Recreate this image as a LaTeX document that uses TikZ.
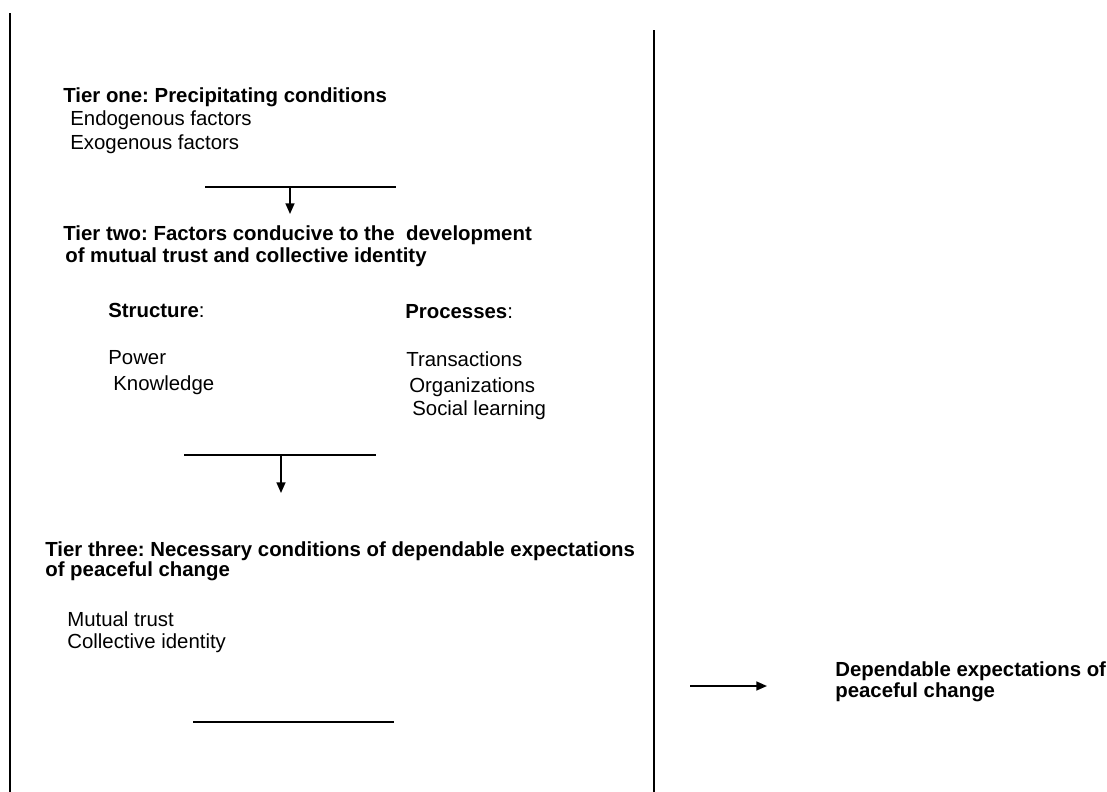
\documentclass[tikz,border=0pt]{standalone}
\usepackage{fontspec}
\setmainfont{Liberation Sans}
\usetikzlibrary{arrows.meta}
\frenchspacing

\begin{document}
\begin{tikzpicture}[x=0.02cm, y=-0.02cm,
    txt/.style ={anchor=base west, inner sep=0pt, font=\fontsize{11.6}{13}\selectfont},
    head/.style ={txt, font=\fontsize{11.6}{13}\selectfont\bfseries},
    rule/.style ={line width=1pt},
    frame/.style ={line width=1.3pt},
    flow/.style ={line width=1pt, -{Triangle[length=6pt, width=5pt]}}]
   \useasboundingbox (0,0) rectangle (1107,792);
   \coordinate (ltop) at (10,13);
   \coordinate (lbot) at (10,792);
   \coordinate (mtop) at (654,30);
   \coordinate (mbot) at (654,792);
   \draw[frame] (ltop) -- (lbot);
   \draw[frame] (mtop) -- (mbot);
   \node[head] (t1) at (63,102) {Tier one: Precipitating conditions};
   \node[txt] (endo) at (70,125) {Endogenous factors};
   \node[txt] (exo) at (70,149) {Exogenous factors};
   \coordinate (b1l) at (205,187);
   \coordinate (b1r) at (396,187);
   \coordinate (b1m) at (290,187);
   \coordinate (a1) at (290,214);
   \draw[rule] (b1l) -- (b1r);
   \draw[flow] (b1m) -- (a1);
   \node[head] (t2) at (63,240) {Tier two: Factors conducive to the\ \ development};
   \node[head] (t2b) at (65,262) {of mutual trust and collective identity};
   \node[head] (struct) at (108,317) {Structure\textmd{:}};
   \node[head] (proc) at (405,318) {Processes\textmd{:}};
   \node[txt] (power) at (108,364) {Power};
   \node[txt] (know) at (113,390) {Knowledge};
   \node[txt] (trans) at (406,366) {Transactions};
   \node[txt] (org) at (409,392) {Organizations};
   \node[txt] (social) at (412,415) {Social learning};
   \coordinate (b2l) at (184,455);
   \coordinate (b2r) at (376,455);
   \coordinate (b2m) at (281,455);
   \coordinate (a2) at (281,493);
   \draw[rule] (b2l) -- (b2r);
   \draw[flow] (b2m) -- (a2);
   \node[head] (t3) at (45,556) {Tier three: Necessary conditions of dependable expectations};
   \node[head] (t3b) at (45,576) {of peaceful change};
   \node[txt] (trust) at (67,626) {Mutual trust};
   \node[txt] (ident) at (67,648) {Collective identity};
   \coordinate (b3l) at (193,722);
   \coordinate (b3r) at (394,722);
   \draw[rule] (b3l) -- (b3r);
   \coordinate (a3s) at (690,686);
   \coordinate (a3e) at (767,686);
   \draw[flow] (a3s) -- (a3e);
   \node[head] (dep) at (835,676) {Dependable expectations of};
   \node[head] (depb) at (835,697) {peaceful change};
\end{tikzpicture}
\end{document}
